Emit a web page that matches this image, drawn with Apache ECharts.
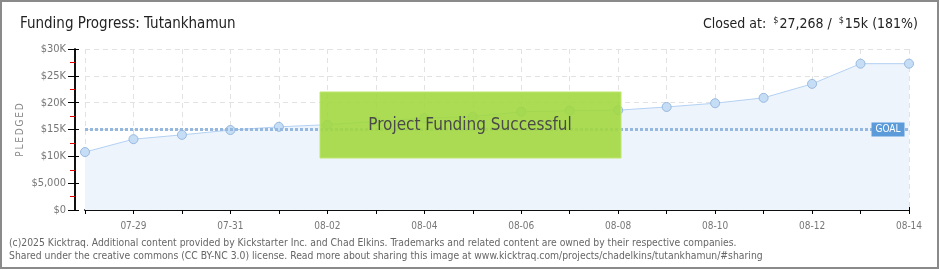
<!DOCTYPE html>
<html><head><meta charset="utf-8">
<script src="https://cdn.jsdelivr.net/npm/echarts@6/dist/echarts.min.js"></script>
<style>html,body{margin:0;padding:0;background:#fff}#c{width:940px;height:270px}</style>
</head><body><div id="c"></div>
<script>
const dates = ['07-28','07-29','07-30','07-31','08-01','08-02','08-03','08-04','08-05','08-06','08-07','08-08','08-09','08-10','08-11','08-12','08-13','08-14'];
const pledged = [10800,13200,14000,14900,15500,15900,16500,17100,17400,18300,18500,18600,19200,19900,20900,23500,27268,27268];
const goal = 15000;
const yTicks = [0,5000,10000,15000,20000,25000,30000];
const titleText = 'Funding Progress: Tutankhamun';
const yName = 'PLEDGED';
const footer1 = '(c)2025 Kicktraq. Additional content provided by Kickstarter Inc. and Chad Elkins. Trademarks and related content are owned by their respective companies.';
const footer2 = 'Shared under the creative commons (CC BY-NC 3.0) license. Read more about sharing this image at www.kicktraq.com/projects/chadelkins/tutankhamun/#sharing';

const font = 'DejaVu Sans Condensed';
const chart = echarts.init(document.getElementById('c'), null, {renderer:'canvas'});
function yFmt(v){ if(v===0) return '$0'; if(v<10000) return '$'+v.toLocaleString('en-US'); return '$'+(v/1000)+'K'; }
const xBase = {
  type:'category', data:dates, boundaryGap:false, position:'bottom', offset:5,
  axisLine:{show:true, lineStyle:{color:'#000', width:1.5}},
  axisTick:{show:true, interval:0, length:4, lineStyle:{color:'#000'}},
};
const yBase = {
  type:'value', min:yTicks[0], max:yTicks[yTicks.length-1], interval:5000, offset:10, position:'left',
  axisLine:{show:true, lineStyle:{color:'#000', width:1.5}},
};
chart.setOption({
  animation:false,
  grid:{left:85, right:31, top:49, bottom:60},
  xAxis:[
    Object.assign({}, xBase, {
      axisLabel:{interval:(i)=>i%2===1, color:'#777', fontSize:10, fontFamily:font, margin:6},
      splitLine:{show:true, interval:0, lineStyle:{color:'#e2e2e2', type:[5,4]}}
    }),
    Object.assign({}, xBase, {
      axisTick:{show:true, interval:0, inside:true, length:3, lineStyle:{color:'#000'}},
      axisLabel:{show:false}, splitLine:{show:false}
    })
  ],
  yAxis:[
    Object.assign({}, yBase, {
      axisTick:{show:true, length:7, lineStyle:{color:'#000'}},
      minorTick:{show:true, splitNumber:2, length:5, lineStyle:{color:'#e00000'}},
      axisLabel:{formatter:yFmt, color:'#777', fontSize:11, fontFamily:font, margin:9},
      splitLine:{show:true, lineStyle:{color:'#e2e2e2', type:[5,4]}}
    }),
    Object.assign({}, yBase, {
      axisTick:{show:true, inside:true, length:4, lineStyle:{color:'#000'}},
      axisLabel:{show:false}, splitLine:{show:false}
    })
  ],
  series:[{
    type:'line', data:pledged, xAxisIndex:0, yAxisIndex:0,
    symbol:'circle', symbolSize:9,
    lineStyle:{color:'#b3d1f2', width:1},
    itemStyle:{color:'#c6ddf6', borderColor:'#98b9de', borderWidth:1},
    areaStyle:{color:'#edf4fc', opacity:1},
    markLine:{
      silent:true, symbol:'none', label:{show:false},
      lineStyle:{color:'#95b8e0', type:[3,2], width:3},
      data:[{yAxis:goal}]
    },
    markPoint:{
      silent:true,
      data:[{coord:[dates[dates.length-1], goal], symbol:'rect', symbolSize:[33,14], symbolOffset:[-21,0],
        itemStyle:{color:'#5b9bd9'},
        label:{show:true, formatter:'GOAL', color:'#fff', fontSize:10, fontFamily:font}}]
    }
  }],
  graphic:[
    {type:'text', x:20, y:130, rotation:Math.PI/2, style:{text:yName.split('').join('\u2009'), fill:'#888', font:'10px '+font, align:'center', verticalAlign:'middle'}},
    {type:'rect', z:100, shape:{x:320, y:92, width:301, height:66}, style:{fill:'rgba(162,216,64,0.9)', stroke:'rgba(190,230,110,1)', lineWidth:1}},
    {type:'text', z:101, x:470, y:126, style:{text:'Project Funding Successful', fill:'#4a4a4a', font:'17px '+font, align:'center', verticalAlign:'middle', textShadowColor:'#fff', textShadowOffsetX:1, textShadowOffsetY:1, textShadowBlur:0}},
    {type:'text', x:20, y:24, style:{text:titleText, fill:'#222', font:'15px '+font, verticalAlign:'middle'}},
    {type:'text', x:918, y:24, style:{
      text:'Closed at: {s|$}27,268 / {s|$}15k (181%)', fill:'#222', font:'14px '+font, align:'right', verticalAlign:'middle',
      rich:{s:{fontSize:9, verticalAlign:'top', padding:[0,1,6,3], fontFamily:font, fill:'#222'}}
    }},
    {type:'text', x:9, y:243, style:{text:footer1, fill:'#666', font:'10.3px '+font, verticalAlign:'middle'}},
    {type:'text', x:9, y:256, style:{text:footer2, fill:'#666', font:'10.3px '+font, verticalAlign:'middle'}},
    {type:'rect', z:200, shape:{x:1, y:1, width:937, height:267}, style:{fill:'none', stroke:'#8a8a8a', lineWidth:2}}
  ]
});
</script></body></html>
